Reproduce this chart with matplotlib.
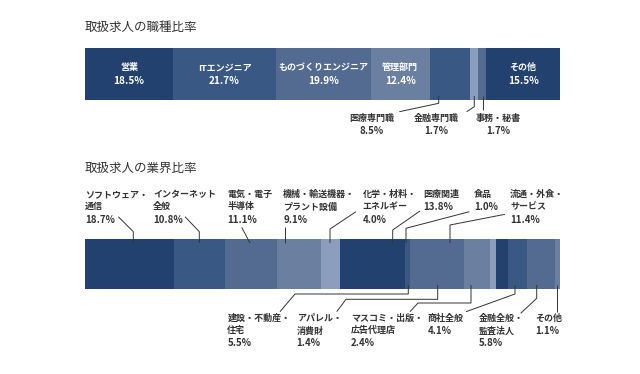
# 取扱求人の職種比率 / 業界比率 (100%積み上げ横棒)
import matplotlib.pyplot as plt

plt.rcParams['font.family'] = ['Noto Sans CJK JP', 'DejaVu Sans']

# データ ------------------------------------------------------------
job_names = ['営業', 'ITエンジニア', 'ものづくりエンジニア', '管理部門',
             '医療専門職', '金融専門職', '事務・秘書', 'その他']
job_values = [18.5, 21.7, 19.9, 12.4, 8.5, 1.7, 1.7, 15.5]

ind_names = ['ソフトウェア・\n通信', 'インターネット\n全般', '電気・電子\n半導体',
             '機械・輸送機器・\nプラント設備', '化学・材料・\nエネルギー', '医療関連',
             '食品', '流通・外食・\nサービス', '建設・不動産・\n住宅', 'アパレル・\n消費財',
             'マスコミ・出版・\n広告代理店', '商社全般', '金融全般・\n監査法人', 'その他']
ind_values = [18.7, 10.8, 11.1, 9.1, 4.0, 13.8, 1.0, 11.4, 5.5, 1.4, 2.4, 4.1, 5.8, 1.1]

# 色
DARK, C2, C3, C4, C5 = '#22416f', '#395883', '#546b91', '#6b80a0', '#8b9ebd'
job_colors = [DARK, C2, C3, C4, C2, C5, C3, DARK]
ind_colors = [DARK, C2, C3, C4, C5] * 2 + [DARK, C2, C3, C4]
TXT = '#333333'

# 図の準備 (重ね合わせ用の全面axesはピクセル座標) --------------------
W, H = 640, 374
fig = plt.figure(figsize=(6.4, 3.74), dpi=100)
ov = fig.add_axes([0, 0, 1, 1])
ov.set_xlim(0, W)
ov.set_ylim(H, 0)
ov.axis('off')
ov.set_zorder(3)
ov.patch.set_visible(False)


def bar_axes(top, bottom):
    ax = fig.add_axes([85 / W, 1 - bottom / H, 475 / W, (bottom - top) / H])
    ax.axis('off')
    return ax


def stacked(ax, values, colors):
    left = 0
    centers = []
    for v, c in zip(values, colors):
        ax.barh(0, v, left=left, height=1, color=c, edgecolor='none')
        centers.append(left + v / 2)
        left += v
    ax.set_xlim(0, left)
    ax.set_ylim(-0.5, 0.5)
    return centers


def label(x, y, name, value, ha='left'):
    lines = name.split('\n')
    for i, s in enumerate(lines):
        ov.text(x, y + i * 12.6, s, ha=ha, va='center', fontsize=6.5,
                fontweight='bold', color=TXT)
    ov.text(x, y + len(lines) * 12.6, f'{value:.1f}%', ha=ha, va='center',
            fontsize=7, fontweight='bold', color=TXT)


def leader(pts):
    ov.plot([p[0] for p in pts], [p[1] for p in pts], color=TXT, lw=0.7,
            solid_capstyle='butt')


# 1 職種比率 --------------------------------------------------------
ov.text(85, 27, '取扱求人の職種比率', fontsize=9, color=TXT, va='center')
ax1 = bar_axes(48, 100)
c1 = stacked(ax1, job_values, job_colors)
for i in [0, 1, 2, 3, 7]:
    ax1.text(c1[i], 0.12, job_names[i], ha='center', va='center',
             color='white', fontsize=6.5, fontweight='bold')
    ax1.text(c1[i], -0.13, f'{job_values[i]:.1f}%', ha='center', va='center',
             color='white', fontsize=7.2, fontweight='bold')

# バー外ラベル (医療専門職, 金融専門職, 事務・秘書)
job_out = [(4, 371.7, [(438.7, 96), (438.7, 103.3), (399.3, 111.7)]),
           (5, 436.7, [(474.3, 96), (474.3, 106.7), (466.7, 111.7)]),
           (6, 498.3, [(482.7, 96), (482.7, 110)])]
for i, x, pts in job_out:
    label(x, 118.3, job_names[i], job_values[i], ha='center')
    leader(pts)

# 2 業界比率 --------------------------------------------------------
ov.text(85, 168, '取扱求人の業界比率', fontsize=9, color=TXT, va='center')
ax2 = bar_axes(239, 289)
stacked(ax2, ind_values, ind_colors)

# 上側ラベル
top_layout = [
    (85, [(118.3, 216.7), (133.3, 231.7), (133.3, 243)]),
    (153.3, [(185, 216.7), (199.3, 231.7), (199.3, 243)]),
    (227.3, [(241.7, 227.3), (250, 243)]),
    (283.3, [(285, 226.7), (285, 243)]),
    (362.7, [(356, 211.7), (330, 229), (330, 243)]),
    (423.3, [(420, 211), (392.7, 230), (392.7, 243)]),
    (474, [(469.3, 211.7), (406, 228.3), (406, 243)]),
    (510, [(505, 214.3), (450, 225), (450, 243)]),
]
for i, (x, pts) in enumerate(top_layout):
    label(x, 194.3, ind_names[i], ind_values[i])
    leader(pts)

# 下側ラベル
bottom_layout = [
    (227.3, [(408.3, 285), (408.3, 294), (295, 294), (280, 311.7)]),
    (296.7, [(437.7, 285), (437.7, 299.3), (346, 299.3), (336.7, 311.7)]),
    (350.7, [(471, 285), (471, 303), (418, 303), (410, 311.7)]),
    (427.3, [(515, 285), (515, 294), (466, 311.7)]),
    (479, [(536.7, 285), (536.7, 298.3), (520.7, 313.3)]),
    (535, [(556.7, 285), (556.7, 311.7)]),
]
for k, (x, pts) in enumerate(bottom_layout):
    i = 8 + k
    label(x, 318.3, ind_names[i], ind_values[i])
    leader(pts)

fig.savefig('out.png', dpi=100)
